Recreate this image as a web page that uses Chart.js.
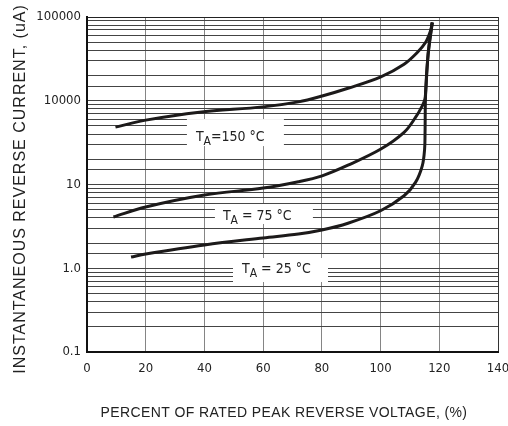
<!DOCTYPE html>
<html>
<head>
<meta charset="utf-8">
<script src="https://cdn.jsdelivr.net/npm/chart.js@4/dist/chart.umd.min.js"></script>
<style>
  html, body { margin: 0; padding: 0; background: #fff; }
</style>
</head>
<body>
<canvas id="reverseCurrent" width="508" height="426"></canvas>
<script>
// percent of rated peak reverse voltage vs. current
const pct150 = [9.7, 20, 38.3, 60, 72, 80.1, 88.9, 100.1, 108, 112.5, 115.3, 117, 117.6];
const cur150 = [48.4, 58.7, 73, 84.5, 97, 114, 141, 193, 273, 377, 496, 682, 859];

const pct75 = [9, 20, 40, 60, 72, 80.1, 88.9, 100.1, 108, 111.9, 114.2, 115.1, 115.35, 116.2, 117.6];
const cur75 = [4.09, 5.38, 7.48, 9.07, 10.8, 12.7, 17.0, 26.5, 41.9, 63.2, 86.9, 104.6, 126, 360, 859];

const pct25 = [15, 20, 40, 60, 72, 80, 88.9, 100, 108, 111.9, 114.2, 115.0, 115.15, 115.35, 116.2, 117.6];
const cur25 = [1.36, 1.48, 1.90, 2.30, 2.56, 2.86, 3.45, 4.86, 7.34, 10.6, 16.7, 26.5, 41.9, 126, 360, 859];

// decade ticks and the labels printed on the original sheet
const yTickValues = [0.1, 1, 10, 100, 1000];
const yTickLabels = ["0.1", "1.0", "10", "10000", "100000"];

const xTicks = [0, 20, 40, 60, 80, 100, 120, 140];

const tempText = ["=150 \u00B0C", " = 75 \u00B0C", " = 25 \u00B0C"];

const NARROW = "'DejaVu Sans Condensed', 'Liberation Sans Narrow', sans-serif";
const WIDE = "'Liberation Sans', Arial, sans-serif";

function toPoints(xs, ys) {
  let pts = [];
  xs.forEach((x, i) => {
    pts.push({ x: x, y: ys[i] });
  });
  return pts;
}

function isDecade(v) {
  const l = Math.log10(v);
  return Math.abs(l - Math.round(l)) < 1e-6;
}

// white label boxes with T_A text; anchor is the text's left/baseline in data units
const tempLabelPlugin = {
  id: "tempLabels",
  beforeDatasetsDraw(chart, args, opts) {
    const ctx = chart.ctx;
    const xs = chart.scales.x;
    const ys = chart.scales.y;
    ctx.save();
    opts.labels.forEach((b, i) => {
      const tx = xs.getPixelForValue(b.x);
      const ty = ys.getPixelForValue(b.y);
      ctx.fillStyle = "#fff";
      ctx.fillRect(tx + b.box[0], ty + b.box[1], b.box[2], b.box[3]);

      const big = "14px " + NARROW;
      const small = "12px " + NARROW;
      let x = tx;
      ctx.fillStyle = "#222";
      ctx.textBaseline = "alphabetic";
      ctx.textAlign = "left";
      ctx.font = big;
      ctx.fillText("T", x, ty);
      x += ctx.measureText("T").width;
      ctx.font = small;
      ctx.fillText("A", x, ty + 4);
      x += ctx.measureText("A").width;
      ctx.font = big;
      ctx.fillText(tempText[i], x, ty);
    });
    ctx.restore();
  },
};

// axis titles, drawn where the sheet has them
const titlePlugin = {
  id: "axisTitles",
  afterDraw(chart) {
    const ctx = chart.ctx;
    ctx.save();
    ctx.fillStyle = "#222";
    ctx.textAlign = "center";
    ctx.textBaseline = "middle";
    ctx.font = "14px " + WIDE;
    ctx.letterSpacing = "0.4px";
    ctx.fillText("PERCENT OF RATED PEAK REVERSE VOLTAGE, (%)", 284, 413);
    ctx.translate(21, 189);
    ctx.rotate(-Math.PI / 2);
    ctx.font = "16px " + WIDE;
    ctx.letterSpacing = "1px";
    ctx.fillText("INSTANTANEOUS REVERSE CURRENT, (uA)", 0, 0);
    ctx.restore();
  },
};

function drawChart() {
  const ctx = document.getElementById("reverseCurrent");
  const lineStyle = {
    borderColor: "#1c1a1a",
    borderWidth: 3,
    pointRadius: 0,
    fill: false,
    tension: 0.35,
  };
  new Chart(ctx, {
    type: "line",
    data: {
      datasets: [
        Object.assign({ label: "TA=150", data: toPoints(pct150, cur150) }, lineStyle),
        Object.assign({ label: "TA=75", data: toPoints(pct75, cur75) }, lineStyle),
        Object.assign({ label: "TA=25", data: toPoints(pct25, cur25) }, lineStyle),
      ],
    },
    options: {
      responsive: false,
      animation: false,
      layout: { padding: { left: 0, right: 10, top: 17, bottom: 0 } },
      plugins: {
        legend: { display: false },
        tooltip: { enabled: false },
        tempLabels: {
          labels: [
            { x: 37.1, y: 33.0, box: [-9, -22, 97, 27] },
            { x: 46.3, y: 3.77, box: [-8, -16, 98, 20] },
            { x: 52.8, y: 0.877, box: [-9, -15, 95, 24] },
          ],
        },
      },
      scales: {
        x: {
          type: "linear",
          min: 0,
          max: 140,
          afterBuildTicks: (scale) => {
            scale.ticks = xTicks.map((v) => ({ value: v }));
          },
          afterFit: (scale) => {
            scale.height = 74;
            scale.paddingLeft = 0;
            scale.paddingRight = 0;
          },
          border: { display: true, color: "#111", width: 2 },
          grid: {
            drawTicks: false,
            color: (c) => (c.tick && c.tick.value === 140 ? "#333" : "#858585"),
            lineWidth: 1,
          },
          ticks: {
            padding: 9,
            color: "#222",
            font: { family: NARROW, size: 13 },
            maxRotation: 0,
          },
        },
        y: {
          type: "logarithmic",
          min: 0.1,
          max: 1000,
          afterFit: (scale) => {
            scale.width = 87;
          },
          border: { display: true, color: "#111", width: 2 },
          grid: {
            drawTicks: false,
            color: (c) => (c.tick && c.tick.value === 1000 ? "#222" : "#444"),
            lineWidth: 1,
          },
          ticks: {
            autoSkip: false,
            padding: 6,
            color: "#222",
            font: { family: NARROW, size: 13 },
            callback: (v) => {
              if (!isDecade(v)) return "";
              const idx = yTickValues.findIndex((t) => Math.abs(t - v) / t < 1e-6);
              return idx >= 0 ? yTickLabels[idx] : "";
            },
          },
        },
      },
    },
    plugins: [tempLabelPlugin, titlePlugin],
  });
}

drawChart();
</script>
</body>
</html>
